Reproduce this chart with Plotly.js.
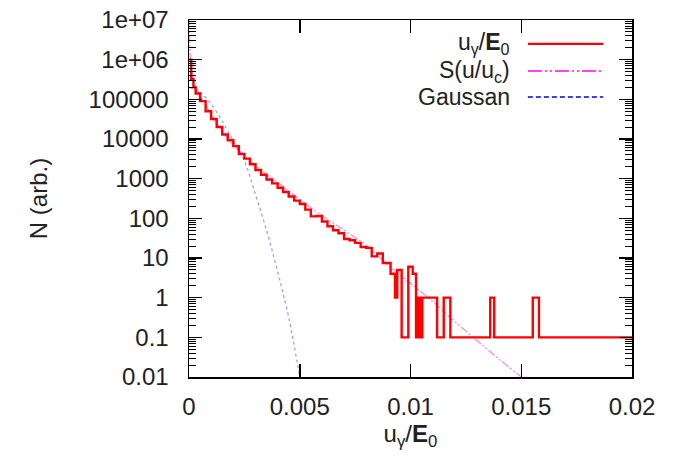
<!DOCTYPE html>
<html>
<head>
<meta charset="utf-8">
<script src="https://cdn.plot.ly/plotly-3.0.1.min.js"></script>
<style>html,body{margin:0;padding:0;background:#fff;}#chart{width:689px;height:459px;}</style>
</head>
<body>
<div id="chart"></div>
<script>
// Histogram (step) data: left bin edges and counts (0.1 = empty bin floor)
const redX = [0, 0.0001, 0.0002, 0.0003, 0.0005, 0.00075, 0.001, 0.00125, 0.0015, 0.00175, 0.002, 0.00225, 0.0025, 0.00275, 0.003, 0.00325, 0.0035, 0.00375, 0.004, 0.00425, 0.0045, 0.00475, 0.005, 0.00525, 0.0055, 0.00575, 0.006, 0.00625, 0.0065, 0.00675, 0.007, 0.00725, 0.0075, 0.00775, 0.008, 0.00825, 0.0085, 0.00875, 0.0091, 0.0093, 0.0094, 0.0096, 0.0099, 0.0101, 0.01025, 0.0103, 0.01036, 0.01042, 0.01048, 0.01053, 0.0112, 0.0115, 0.0118, 0.0136, 0.01378, 0.01552, 0.0158, 0.02];
const redN = [1.0e6, 3.2e5, 2.0e5, 1.4e5, 9.0e4, 5.0e4, 3.2e4, 2.0e4, 1.3e4, 9300, 6600, 4200, 3200, 2300, 1660, 1260, 950, 760, 590, 460, 355, 280, 230, 166, 112, 115, 83, 63, 50, 42, 30, 28, 24, 19, 18, 11, 13, 7.5, 4, 1, 5, 0.1, 6, 4, 0.1, 1, 0.1, 1, 0.1, 1, 0.1, 1, 0.1, 1, 0.1, 1, 0.1, 0.1];

// S(u/uc) curve
const sX = [0.00002, 0.00005, 0.0001, 0.0002, 0.0004, 0.0007, 0.001, 0.0015, 0.002, 0.0025, 0.003, 0.004, 0.005, 0.006, 0.007, 0.008, 0.009, 0.010, 0.011, 0.012, 0.013, 0.014, 0.015, 0.0155];
const sN = [1.2e7, 1.5e6, 6e5, 3e5, 1.6e5, 8.5e4, 4e4, 1.6e4, 7e3, 3.8e3, 2.1e3, 800, 300, 117, 50, 21, 6.5, 2.3, 0.8, 0.25, 0.083, 0.028, 0.01, 0.006];

// Gaussian curve
const gX = [0, 0.0005, 0.001, 0.0015, 0.002, 0.0025, 0.003, 0.0035, 0.004, 0.0045, 0.005];
const gN = [2.0e5, 1.5e5, 7.6e4, 2.8e4, 8.9e3, 2.8e3, 400, 50, 4.5, 0.32, 0.01];

// Axis ticks
const xTickVals = [0, 0.005, 0.01, 0.015, 0.02];
const xTickText = ["0", "0.005", "0.01", "0.015", "0.02"];
const yTickVals = [0.01, 0.1, 1, 10, 100, 1000, 10000, 100000, 1e6, 1e7];
const yTickText = ["0.01", "0.1", "1", "10", "100", "1000", "10000", "100000", "1e+06", "1e+07"];

// Legend labels
const legendLabels = ["u<sub>γ</sub>/<b>E</b><sub>0</sub>", "S(u/u<sub>c</sub>)", "Gaussan"];

const yMinor = [];
for (let d = -2; d <= 6; d++) {
  for (let m = 2; m <= 9; m++) yMinor.push(m * Math.pow(10, d));
}

const FONT = "Liberation Sans, Arial, Helvetica, sans-serif";
const TXT = "#222";

const traces = [
  {x: gX, y: gN, type: "scatter", mode: "lines", line: {color: "#3333ff", width: 1.2, dash: "3px,3px", shape: "spline"}, opacity: 0.5},
  {x: sX, y: sN, type: "scatter", mode: "lines", line: {color: "#ff00ff", width: 1.2, dash: "8px,2px,2px,2px,2px,2px", shape: "spline"}, opacity: 0.5},
  {x: redX, y: redN, type: "scatter", mode: "lines", line: {color: "#ff0000", width: 2.4, shape: "hv"}}
];

const rows = [0.933, 0.857, 0.784];
const legColors = ["#ff0000", "#ff00ff", "#0000ff"];
const legDash = ["solid", "14px,3px,2px,3px,2px,3px", "5px,3px"];
const annotations = [];
const shapes = [];
for (let i = 0; i < 3; i++) {
  annotations.push({xref: "paper", yref: "paper", x: 0.729, y: rows[i], xanchor: "right", yanchor: "middle",
    text: legendLabels[i], showarrow: false, font: {family: FONT, size: 23, color: TXT}});
  shapes.push({type: "line", xref: "paper", yref: "paper", x0: 0.765, x1: 0.935, y0: rows[i], y1: rows[i],
    line: {color: legColors[i], width: i === 0 ? 2.4 : 1.5, dash: legDash[i]}});
}

const layout = {
  width: 689, height: 459,
  margin: {l: 189, r: 57, t: 20, b: 82},
  paper_bgcolor: "#fff", plot_bgcolor: "#fff",
  showlegend: false,
  font: {family: FONT, size: 24, color: TXT},
  xaxis: {
    range: [0, 0.02], tickmode: "array", tickvals: xTickVals, ticktext: xTickText,
    ticks: "inside", ticklen: 13, tickwidth: 1.5, tickcolor: "#000",
    showline: true, linecolor: "#000", linewidth: 1.5, mirror: "allticks",
    showgrid: false, zeroline: false, ticklabelstandoff: 8,
    tickfont: {family: FONT, size: 24, color: TXT},
    title: {text: "u<sub>γ</sub>/<b>E</b><sub>0</sub>", font: {family: FONT, size: 24, color: TXT}, standoff: 6}
  },
  yaxis: {
    type: "log", range: [-2, 7], tickmode: "array", tickvals: yTickVals, ticktext: yTickText,
    ticks: "inside", ticklen: 13, tickwidth: 1.5, tickcolor: "#000",
    minor: {tickmode: "array", tickvals: yMinor, ticks: "inside", ticklen: 7, tickwidth: 1, tickcolor: "#000", showgrid: false},
    showline: true, linecolor: "#000", linewidth: 1.5, mirror: "allticks",
    showgrid: false, zeroline: false, ticklabelstandoff: 14,
    tickfont: {family: FONT, size: 24, color: TXT},
    title: {text: "N (arb.)", font: {family: FONT, size: 24, color: TXT}, standoff: 34}
  },
  annotations: annotations,
  shapes: shapes
};

Plotly.newPlot("chart", traces, layout, {staticPlot: true, displayModeBar: false});
</script>
</body>
</html>
